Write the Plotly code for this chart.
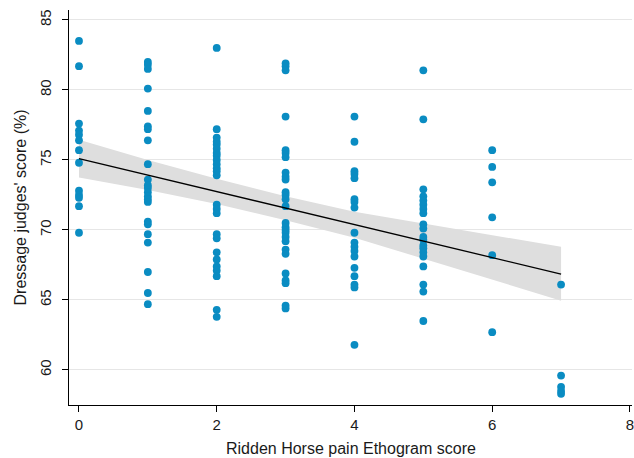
import plotly.graph_objects as go

# RHpE score columns and dressage scores
score_0 = [83.5, 81.7, 77.6, 77.1, 76.8, 76.4, 75.7, 74.8, 72.8, 72.5, 72.3, 71.7, 69.8]
score_1 = [82.0, 81.8, 81.5, 80.1, 78.5, 77.4, 77.2, 76.4, 74.7, 73.6, 73.2, 73.0, 72.7,
           72.4, 72.2, 72.0, 70.6, 70.4, 69.7, 69.1, 67.0, 65.5, 64.7]
score_2 = [83.0, 77.2, 76.6, 76.3, 76.1, 75.8, 75.5, 75.3, 75.0, 74.7, 74.4, 74.2, 73.9,
           71.8, 71.5, 71.2, 69.7, 69.4, 68.4, 67.9, 67.4, 67.1, 66.7, 64.3, 63.8]
score_3 = [81.9, 81.7, 81.4, 78.1, 75.7, 75.5, 75.2, 74.1, 73.8, 73.6, 72.7, 72.5, 72.2,
           71.7, 70.5, 70.2, 70.0, 69.8, 69.5, 69.2, 68.6, 68.3, 66.9, 66.4, 66.2, 64.6, 64.4]
score_4 = [78.1, 76.3, 74.2, 74.0, 73.7, 72.2, 72.0, 71.6, 69.8, 69.1, 68.8, 68.5, 68.1,
           67.3, 66.7, 66.1, 65.9, 61.8]
score_5 = [81.4, 77.9, 72.9, 72.4, 72.1, 71.8, 71.5, 71.2, 70.4, 70.1, 69.5, 69.3, 68.9,
           68.7, 68.4, 68.1, 67.4, 66.1, 65.6, 63.5]
score_6 = [75.7, 74.5, 73.4, 70.9, 68.2, 62.7]
score_7 = [66.1, 59.6, 58.8, 58.5, 58.3]

columns = [score_0, score_1, score_2, score_3, score_4, score_5, score_6, score_7]

# fitted line and 95% confidence band
fit_x = [0, 1, 2, 3, 4, 5, 6, 7]
fit_y = [75.1, 73.92, 72.74, 71.56, 70.38, 69.2, 68.02, 66.85]
band_upper = [76.45, 75.0, 73.65, 72.4, 71.3, 70.45, 69.6, 68.8]
band_lower = [73.75, 72.85, 71.85, 70.7, 69.45, 67.95, 66.45, 64.95]

x_ticks = [0, 2, 4, 6, 8]
y_ticks = [60, 65, 70, 75, 80, 85]

x_title = "Ridden Horse pain Ethogram score"
y_title = "Dressage judges' score (%)"

pts_x = []
pts_y = []
for i, col in enumerate(columns):
    pts_x += [i] * len(col)
    pts_y += col

fig = go.Figure()
fig.add_trace(go.Scatter(
    x=fit_x + fit_x[::-1], y=band_upper + band_lower[::-1],
    fill="toself", fillcolor="#dedede", line=dict(width=0),
    mode="lines", hoverinfo="skip", showlegend=False))
fig.add_trace(go.Scatter(
    x=pts_x, y=pts_y, mode="markers",
    marker=dict(size=7.8, color="#0a8cc2", line=dict(width=0)),
    showlegend=False))
fig.add_trace(go.Scatter(
    x=fit_x, y=fit_y, mode="lines",
    line=dict(color="black", width=1.3), showlegend=False))

font = "Liberation Sans, Arial, sans-serif"
fig.update_layout(
    width=634, height=458,
    margin=dict(l=69, r=2, t=10, b=53, autoexpand=False),
    paper_bgcolor="white", plot_bgcolor="white",
    font=dict(family=font, size=15, color="#1a1a1a"),
    xaxis=dict(
        range=[-0.145, 8.03], tickvals=x_ticks, showgrid=False, zeroline=False,
        showline=True, linecolor="black", linewidth=1.3, automargin=False,
        ticks="outside", ticklen=6, tickcolor="black",
        ticklabeloverflow="allow",
    ),
    yaxis=dict(
        range=[57.5, 85.71], tickvals=y_ticks, showgrid=True, gridcolor="#e6e6e6",
        gridwidth=1, zeroline=False, automargin=False,
        showline=True, linecolor="black", linewidth=1.3,
        ticks="outside", ticklen=6, tickcolor="black", tickangle=-90,
        ticklabelstandoff=5,
    ),
    annotations=[
        dict(text=x_title, xref="paper", yref="paper", x=0.5, y=0,
             yshift=-43, xanchor="center", yanchor="middle", showarrow=False,
             font=dict(size=16)),
        dict(text=y_title, xref="paper", yref="paper", x=0, y=0.5,
             xshift=-49, textangle=-90, xanchor="center", yanchor="middle",
             showarrow=False, font=dict(size=16)),
    ],
)
fig.write_html(
    "out.html",
    config={"displayModeBar": False},
    post_script="document.body.style.margin='0';document.body.style.overflow='hidden';",
)
